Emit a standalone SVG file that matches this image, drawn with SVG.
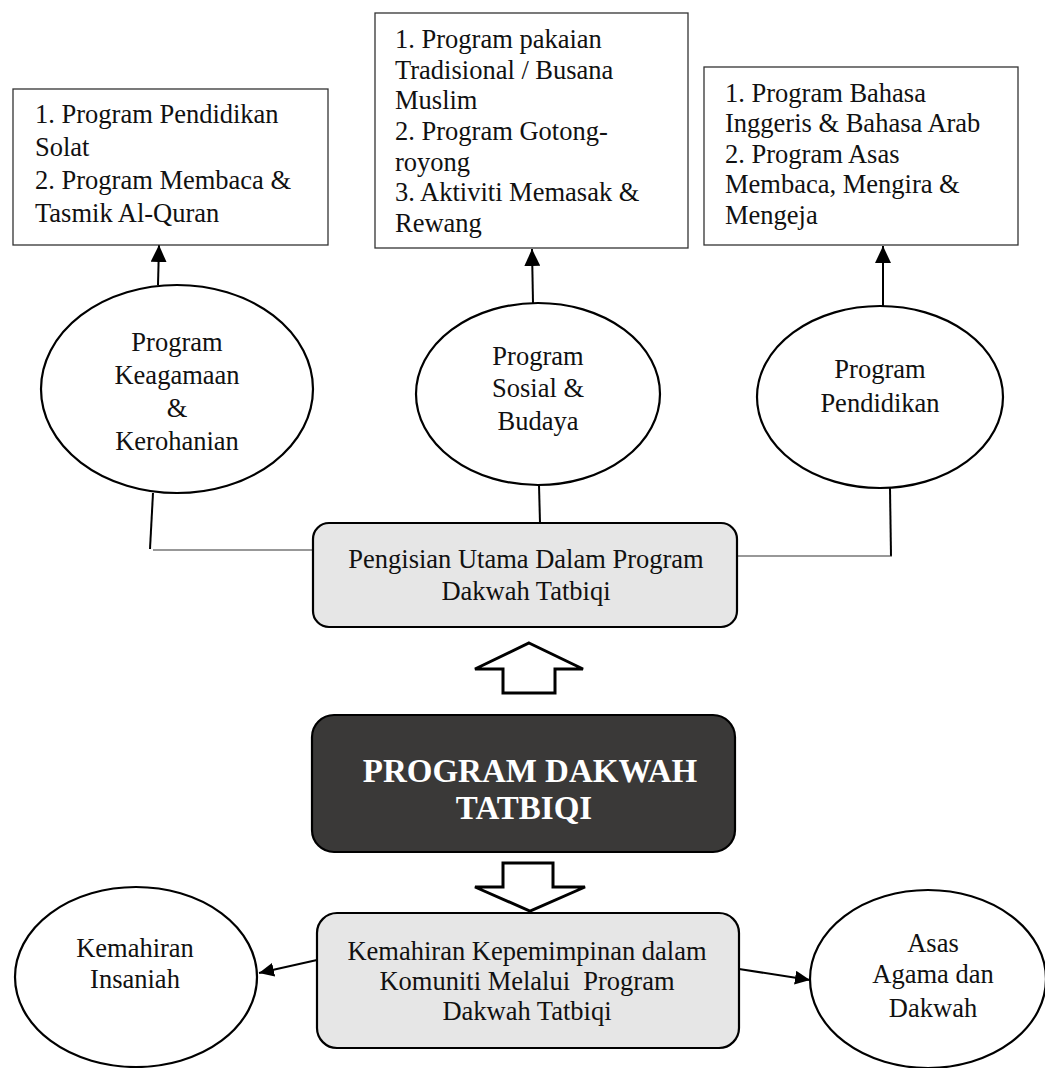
<svg xmlns="http://www.w3.org/2000/svg" width="1045" height="1068" viewBox="0 0 1045 1068">
<defs>
<style>
text{font-family:"Liberation Serif","Times New Roman",serif;font-size:26.5px;fill:#111}
.c{text-anchor:middle}
.box{fill:#fff;stroke:#333;stroke-width:1.3}
.ell{fill:#fff;stroke:#000;stroke-width:2.2}
.rbox{fill:#e6e6e6;stroke:#000;stroke-width:2.2}
.dark{fill:#3a3938;stroke:#000;stroke-width:2.2}
.ttl{font-size:33px;font-weight:bold;fill:#fff}
.ln{stroke:#000;stroke-width:2;fill:none}
.thin{stroke:#333;stroke-width:1.2;fill:none}
.blk{fill:#fff;stroke:#000;stroke-width:3;stroke-linejoin:miter}
</style>
<marker id="ah" markerUnits="userSpaceOnUse" markerWidth="18" markerHeight="16" refX="17" refY="8" orient="auto">
<path d="M0,0 L17,8 L0,16 z" fill="#000"/>
</marker>
<marker id="ah2" markerUnits="userSpaceOnUse" markerWidth="16" markerHeight="14" refX="15" refY="7" orient="auto">
<path d="M0,0 L15,7 L0,14 z" fill="#000"/>
</marker>
</defs>

<g id="connectors">
<line class="ln" x1="158" y1="285" x2="159" y2="245" marker-end="url(#ah)"/>
<line class="ln" x1="533" y1="303" x2="532" y2="249" marker-end="url(#ah)"/>
<line class="ln" x1="883" y1="307" x2="883" y2="246" marker-end="url(#ah)"/>
<polyline class="ln" points="153,493 150,549"/>
<line class="thin" x1="153" y1="550" x2="313" y2="550"/>
<line class="ln" x1="539" y1="485" x2="540" y2="523"/>
<polyline class="ln" points="890,488 891,556"/>
<line class="thin" x1="737" y1="556" x2="892" y2="556"/>
<path class="blk" d="M529,643 L583,669 L555,669 L555,693 L503,693 L503,669 L475,669 Z"/>
<path class="blk" d="M503,863 L553,863 L553,887 L585,887 L530,911 L475,887 L503,887 Z"/>
<line class="ln" x1="317" y1="960" x2="259" y2="973" marker-end="url(#ah2)"/>
<line class="ln" x1="739" y1="969" x2="810" y2="980" marker-end="url(#ah2)"/>
</g>

<g id="box-keagamaan">
<rect class="box" x="13" y="89" width="315" height="156"/>
<text x="35" y="123">1. Program Pendidikan</text>
<text x="35" y="156">Solat</text>
<text x="35" y="189">2. Program Membaca &amp;</text>
<text x="35" y="222">Tasmik Al-Quran</text>
</g>

<g id="box-sosial">
<rect class="box" x="375" y="13" width="313" height="235"/>
<text x="395" y="48">1. Program pakaian</text>
<text x="395" y="79">Tradisional / Busana</text>
<text x="395" y="109">Muslim</text>
<text x="395" y="140">2. Program Gotong-</text>
<text x="395" y="171">royong</text>
<text x="395" y="201">3. Aktiviti Memasak &amp;</text>
<text x="395" y="232">Rewang</text>
</g>

<g id="box-pendidikan">
<rect class="box" x="704" y="67" width="314" height="178"/>
<text x="725" y="102">1. Program Bahasa</text>
<text x="725" y="132">Inggeris &amp; Bahasa Arab</text>
<text x="725" y="163">2. Program Asas</text>
<text x="725" y="193">Membaca, Mengira &amp;</text>
<text x="725" y="224">Mengeja</text>
</g>

<g id="ell-keagamaan">
<ellipse class="ell" cx="177" cy="389" rx="136" ry="104"/>
<text class="c" x="177" y="351">Program</text>
<text class="c" x="177" y="384">Keagamaan</text>
<text class="c" x="177" y="417">&amp;</text>
<text class="c" x="177" y="450">Kerohanian</text>
</g>

<g id="ell-sosial">
<ellipse class="ell" cx="538" cy="394" rx="122" ry="91"/>
<text class="c" x="538" y="365">Program</text>
<text class="c" x="538" y="397">Sosial &amp;</text>
<text class="c" x="538" y="430">Budaya</text>
</g>

<g id="ell-pendidikan">
<ellipse class="ell" cx="880" cy="397" rx="123" ry="91"/>
<text class="c" x="880" y="378">Program</text>
<text class="c" x="880" y="412">Pendidikan</text>
</g>

<g id="pengisian">
<rect class="rbox" x="313" y="523" width="424" height="104" rx="16"/>
<text class="c" x="526" y="568">Pengisian Utama Dalam Program</text>
<text class="c" x="526" y="600">Dakwah Tatbiqi</text>
</g>

<g id="program-dakwah">
<rect class="dark" x="312" y="715" width="423" height="137" rx="22"/>
<text class="c ttl" x="530" y="782">PROGRAM DAKWAH</text>
<text class="c ttl" x="524" y="819">TATBIQI</text>
</g>

<g id="kepemimpinan">
<rect class="rbox" x="317" y="913" width="422" height="135" rx="20"/>
<text class="c" x="527" y="960">Kemahiran Kepemimpinan dalam</text>
<text class="c" x="527" y="990" xml:space="preserve">Komuniti Melalui  Program</text>
<text class="c" x="527" y="1020">Dakwah Tatbiqi</text>
</g>

<g id="insaniah">
<ellipse class="ell" cx="136" cy="977" rx="121" ry="90"/>
<text class="c" x="135" y="957">Kemahiran</text>
<text class="c" x="135" y="988">Insaniah</text>
</g>

<g id="asas">
<ellipse class="ell" cx="928" cy="979" rx="118" ry="89"/>
<text class="c" x="933" y="952">Asas</text>
<text class="c" x="933" y="983">Agama dan</text>
<text class="c" x="933" y="1017">Dakwah</text>
</g>
</svg>
